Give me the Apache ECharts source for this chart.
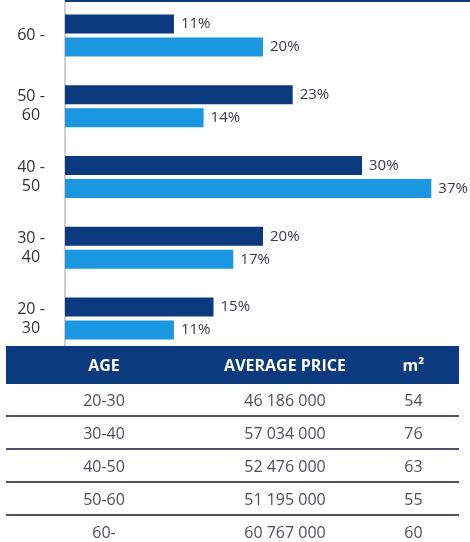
<!DOCTYPE html>
<html>
<head>
<meta charset="utf-8">
<script src="https://cdn.jsdelivr.net/npm/echarts@6/dist/echarts.min.js"></script>
<style>
    html, body { margin: 0; padding: 0; background: #fff; }
    #wrap { position: relative; width: 470px; height: 542px; overflow: hidden; }
    #chart { position: absolute; left: 0; top: 0; width: 470px; height: 542px; }
    #topline { position: absolute; left: 65px; top: 0; width: 405px; height: 2px; background: #0b3a7e; }
    #table {
        position: absolute; left: 6px; top: 346px; width: 453px;
        border-collapse: collapse; font-family: 'Open Sans', sans-serif;
    }
    #table th {
        background: #0b3a7e; color: #fff; font-weight: 700; font-size: 16px;
        height: 38px; padding: 0; text-align: center;
    }
    #table td {
        color: #4f4f5a; font-size: 16px; height: 31px; padding: 0; text-align: center;
        border-bottom: 2px solid #4d5068;
    }
    #table tr:last-child td { border-bottom: none; }
</style>
</head>
<body>
<div id="wrap">
    <div id="chart"></div>
    <div id="topline"></div>
    <table id="table"></table>
</div>
<script>
    // age groups, top to bottom
    var categories = ['60 -', '50 -\n60', '40 -\n50', '30 -\n40', '20 -\n30'];
    var seriesDark = [11, 23, 30, 20, 15];
    var seriesLight = [20, 14, 37, 17, 11];

    // table below the chart
    var tableHeader = ['AGE', 'AVERAGE PRICE', 'm²'];
    var tableAge = ['20-30', '30-40', '40-50', '50-60', '60-'];
    var tablePrice = ['46 186 000', '57 034 000', '52 476 000', '51 195 000', '60 767 000'];
    var tableArea = ['54', '76', '63', '55', '60'];

    var colWidths = [196, 166, 91];

    function buildTable() {
        var t = document.getElementById('table');
        var html = '<tr>';
        tableHeader.forEach(function (h, i) {
            html += '<th style="width:' + colWidths[i] + 'px">' + h + '</th>';
        });
        html += '</tr>';
        tableAge.forEach(function (a, i) {
            html += '<tr><td>' + a + '</td><td>' + tablePrice[i] + '</td><td>' + tableArea[i] + '</td></tr>';
        });
        t.innerHTML = html;
    }
    buildTable();

    var labelStyle = {
        show: true,
        position: 'right',
        distance: 7,
        formatter: '{c}%',
        color: '#3a3a48',
        fontSize: 15,
        fontFamily: 'Open Sans'
    };

    var chart = echarts.init(document.getElementById('chart'));
    chart.setOption({
        animation: false,
        grid: {
            left: 65,
            top: 0,
            width: 396,
            height: 354
        },
        xAxis: {
            type: 'value',
            min: 0,
            max: 40,
            show: false
        },
        yAxis: {
            type: 'category',
            inverse: true,
            data: categories,
            axisTick: { show: false },
            axisLine: {
                lineStyle: { color: '#cfcfd4', width: 2 }
            },
            axisLabel: {
                align: 'center',
                margin: 34,
                color: '#333',
                fontSize: 16,
                lineHeight: 19,
                fontFamily: 'Open Sans'
            }
        },
        series: [{
            name: 'dark',
            type: 'bar',
            data: seriesDark,
            barWidth: 19,
            barGap: '21%',
            itemStyle: { color: '#0b3a7e' },
            label: labelStyle
        }, {
            name: 'light',
            type: 'bar',
            data: seriesLight,
            barWidth: 19,
            itemStyle: { color: '#1a97e0' },
            label: labelStyle
        }]
    });
</script>
</body>
</html>
